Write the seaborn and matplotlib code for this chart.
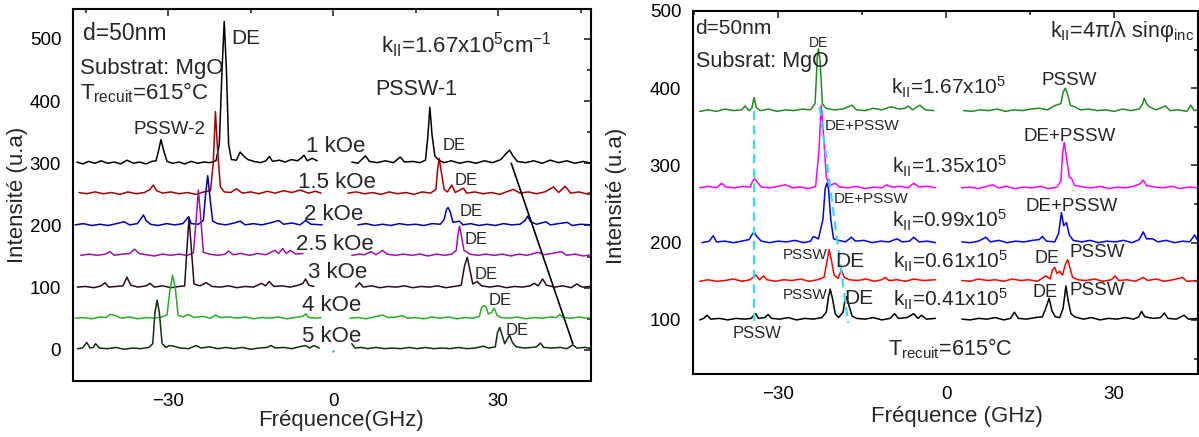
import numpy as np
import pandas as pd
import seaborn as sns
import matplotlib
matplotlib.use('Agg')
import matplotlib.pyplot as plt
from matplotlib.ticker import FixedLocator

# ---- left panel : spectra vs applied field (offset baselines) ----
# points: (frequency GHz, intensity u.a)
k1_L = [(-46.6,302),(-45.5,299),(-44.5,303),(-43.3,300),(-42.2,304),(-41,300),(-39.8,302),(-38.6,299),(-37.5,305),(-36.3,300),(-35.2,302),(-34,299),(-33,303),(-32.2,304),(-31.7,322),(-31.3,338),(-30.8,320),(-30.2,303),(-29.2,300),(-28,302),(-27,299),(-25.8,303),(-24.6,300),(-23.5,302),(-22.4,301),(-21.3,304),(-20.7,330),(-20.2,450),(-19.8,528),(-19.4,450),(-19,330),(-18.5,306),(-17.6,305),(-16.9,318),(-16.3,312),(-15.5,306),(-14.4,303),(-13.2,301),(-12.2,304),(-11.6,311),(-11,303),(-9.8,305),(-8.7,302),(-7.6,306),(-6.5,304),(-5.7,309),(-5.3,313),(-4.7,304),(-3.8,308),(-2.9,304)]
k1_R = [(3.4,302),(4.5,300),(5.9,312),(6.6,303),(8,301),(9.5,304),(11,301),(12.2,310),(13,302),(14.5,303),(15.8,301),(16.8,305),(17.2,340),(17.6,390),(18,345),(18.5,312),(19.2,305),(20.2,301),(21.5,304),(23,300),(24.5,303),(26,300),(27.5,304),(29,301),(30.5,306),(31.5,316),(32.1,321),(32.7,312),(33.5,303),(35,301),(36.5,304),(38,300),(39.5,305),(41,301),(42.5,304),(44,300),(45.5,303),(47,300)]
k15_L = [(-46.2,253),(-44.8,251),(-43.3,254),(-41.8,251),(-40.3,253),(-38.8,250),(-37.3,254),(-35.8,251),(-34.3,253),(-33.3,258),(-32.7,265),(-32.1,256),(-31,252),(-29.5,254),(-28,251),(-26.5,253),(-25,250),(-23.5,254),(-22.3,256),(-21.8,300),(-21.4,383),(-21,320),(-20.5,262),(-19.8,254),(-18.6,253),(-17.6,259),(-16.5,252),(-15,254),(-13.5,251),(-12,255),(-10.5,252),(-9,256),(-7.5,253),(-6,257),(-4.5,252),(-3.2,255),(-2.2,252)]
k15_R = [(2.7,252),(4.2,254),(5.7,251),(7.2,253),(8.7,250),(10.2,254),(11.7,251),(13.2,253),(14.7,250),(16.2,254),(17.7,252),(18.7,258),(19.0,290),(19.3,308),(19.7,285),(20.2,258),(20.8,254),(21.6,265),(22.2,253),(23.7,260),(24.3,252),(25.8,254),(27.3,251),(28.8,253),(30.3,250),(31.5,254),(32.8,258),(34,252),(35.5,254),(37,251),(38.5,254),(40.1,262),(41,253),(42.2,263),(43.2,252),(44.7,254),(46,251),(47,253)]
k2_L = [(-46.9,201),(-45.4,203),(-43.9,200),(-42.4,202),(-40.9,200),(-39.4,203),(-38,206),(-37,201),(-35.6,203),(-35,210),(-34.5,217),(-34,208),(-33.2,202),(-31.8,200),(-30.3,203),(-28.8,201),(-27.3,203),(-26.3,214),(-25.8,203),(-24.5,202),(-23.6,208),(-23.2,250),(-22.8,280),(-22.4,245),(-21.9,207),(-21,203),(-19.5,201),(-18,204),(-16.9,207),(-16,201),(-14.5,203),(-13,201),(-11.5,204),(-9.9,208),(-9,202),(-7.5,204),(-6,201),(-5,208),(-4,202),(-2,201)]
k2_R = [(4.5,201),(6,203),(7.5,200),(9,202),(10.5,200),(12,203),(13.5,201),(15,202),(16.5,200),(18,203),(19.5,202),(20.2,210),(20.6,225),(20.9,229),(21.3,222),(21.8,205),(23,207),(23.6,201),(25,203),(26.5,200),(28,202),(29.5,200),(31,203),(32.5,201),(34,202),(34.9,208),(35.4,215),(35.9,206),(37,202),(38.7,206),(39.5,201),(41,203),(42.6,205),(43.5,200),(45,202),(47,201)]
k25_L = [(-45.9,152),(-44.4,154),(-42.9,152),(-41.4,154),(-40.6,158),(-39.8,152),(-38.3,154),(-37,155),(-36.1,162),(-35.3,155),(-34,153),(-32.5,151),(-31,154),(-29.5,152),(-28,154),(-26.5,152),(-25.4,156),(-24.9,210),(-24.5,257),(-24.1,215),(-23.6,157),(-22.5,154),(-21,152),(-19.6,154),(-19,159),(-18.2,153),(-16.7,155),(-15.2,152),(-13.7,155),(-12.2,153),(-10.6,160),(-9.9,155),(-9.2,163),(-8.5,155),(-7.8,160),(-6.8,154),(-5.5,155)]
k25_R = [(3.4,152),(4.8,154),(5.7,153),(6.9,158),(7.8,153),(9,160),(9.8,154),(11.3,152),(12.8,154),(14.3,152),(15.8,154),(17.3,151),(18.8,154),(20.3,152),(21.6,154),(22.4,160),(22.7,185),(23,199),(23.4,180),(23.8,160),(24.2,158),(24.8,154),(26.3,152),(27.8,154),(29.3,152),(30.8,154),(32.3,151),(33.8,154),(35.3,152),(36.5,155),(37.3,157),(38.3,153),(39.8,155),(41.5,158),(42.5,152),(44,154),(45.5,151),(47,153)]
k3_L = [(-46.5,101),(-45,102),(-43.5,100),(-42.2,103),(-41.5,108),(-40.8,101),(-39.5,102),(-38.2,103),(-37.5,117),(-36.8,104),(-35.5,101),(-34,103),(-33.3,107),(-32.5,101),(-31,103),(-29.5,100),(-28,102),(-27,103),(-26.6,160),(-26.2,213),(-25.8,165),(-25.3,106),(-24.2,103),(-23.1,108),(-22,102),(-20.5,101),(-19,103),(-17.5,100),(-16,102),(-14.5,101),(-13,107),(-12.3,103),(-11.6,110),(-10.8,102),(-9.3,103),(-7.8,101),(-6.3,104),(-5.5,107),(-5,114),(-4.4,104),(-3.5,102)]
k3_R = [(4.1,101),(4.8,108),(5.5,101),(7,103),(8.5,100),(10,102),(11.5,101),(13,103),(14.5,100),(16,102),(17.5,101),(19,103),(20.5,100),(22,102),(23.3,104),(23.9,135),(24.4,149),(24.9,128),(25.4,106),(26.2,110),(27,103),(28.5,101),(30,103),(31.5,100),(33,102),(34.5,101),(35.8,103),(36.6,107),(37.3,103),(38.1,114),(38.8,104),(40.3,101),(41.8,103),(43.3,100),(44.3,106),(45.3,101),(47,102)]
k4_L = [(-46.9,51),(-45.4,52),(-43.9,50),(-42.4,53),(-41.3,52),(-40.6,57),(-39.8,56),(-38.5,51),(-37,53),(-35.5,50),(-34,52),(-32.5,51),(-31.2,53),(-30.2,56),(-29.7,95),(-29.2,120),(-28.7,100),(-28.2,56),(-27.3,53),(-26.3,57),(-25.3,52),(-23.8,54),(-22.3,51),(-21.4,56),(-20.5,52),(-19,53),(-17.5,51),(-16,53),(-14.5,50),(-13,52),(-11.5,51),(-10,53),(-8.5,50),(-7,52),(-5.5,54),(-5,58),(-4.4,52),(-3,51),(-2.2,52)]
k4_R = [(3.1,51),(4.6,52),(6,50),(7.5,53),(9,56),(10,52),(11.5,53),(12.5,55),(13.5,51),(15,52),(16.5,50),(18,53),(19.5,51),(21,53),(22.5,50),(24,52),(25.5,51),(26.6,54),(27,68),(27.4,71),(27.8,70),(28.2,58),(28.8,60),(29.3,67),(29.8,56),(30.5,52),(32,51),(33.5,53),(35,50),(36.5,52),(38,51),(39.5,53),(40.6,52),(41.2,57),(41.8,52),(43.3,51),(44.8,53),(46,51),(47,52)]
k5_L = [(-46.5,2),(-45.6,3),(-44.8,12),(-44.2,3),(-43.6,4),(-43.2,10),(-42.5,3),(-41,2),(-39.5,4),(-38,1),(-36.5,3),(-35,2),(-33.5,4),(-32.8,10),(-32.4,60),(-32,80),(-31.6,60),(-31.1,10),(-30.4,4),(-29.8,7),(-29,6),(-27.8,3),(-26.3,2),(-24.9,7),(-24,3),(-22.5,5),(-21,2),(-19.5,4),(-18,2),(-16.5,4),(-15,1),(-13.5,3),(-12,4),(-11.3,7),(-10.5,3),(-9,4),(-7.5,2),(-6.2,5),(-5,7),(-4.3,3),(-3.5,7),(-2.5,3)]
k5_R = [(3.4,10),(4,3),(5.2,4),(6.3,2),(7.8,4),(9.3,2),(10.8,3),(12.3,2),(13.8,4),(15.3,2),(16.8,4),(18.3,2),(19.8,3),(21.3,2),(22.8,4),(24.3,2),(25.8,3),(27.3,6),(28.3,3),(29.5,5),(29.9,28),(30.3,36),(30.7,25),(31.2,10),(31.7,18),(32.1,24),(32.6,12),(33.3,5),(34.8,3),(36.2,4),(37,5),(37.7,11),(38.3,4),(39.8,3),(41.3,4),(42.5,2),(43.6,8),(44.3,3),(45.8,4),(47,2)]

fields = ['1 kOe', '1.5 kOe', '2 kOe', '2.5 kOe', '3 kOe', '4 kOe', '5 kOe']
field_halves = [(k1_L, k1_R), (k15_L, k15_R), (k2_L, k2_R), (k25_L, k25_R), (k3_L, k3_R), (k4_L, k4_R), (k5_L, k5_R)]
field_colors = ['#000000', '#A80000', '#0000B0', '#A010A8', '#2A0A22', '#22B022', '#0F2F0F']
# label positions (freq, intensity) for the field names and the small DE marks
field_lab_pos = [(-4.9, 327), (-6.3, 269), (-5.3, 217), (-6.8, 170), (-4.6, 124), (-5.6, 72), (-5.6, 22)]
de_lab_pos = [(19.9, 328), (22.1, 273), (23.0, 222), (24.0, 177), (25.8, 122), (28.2, 80), (31.4, 32)]
# straight guide line drawn over the spectra
guide_f = [32.4, 43.6]
guide_i = [300, 10]
dot_f = [0]
dot_i = [-1]

# ---- right panel : spectra vs wave vector ----
g167_L = [(-44,370),(-42.5,372),(-41,370),(-39.5,373),(-38,371),(-36.5,372),(-35.9,377),(-35.2,371),(-34.7,374),(-34.3,388),(-33.9,375),(-33.2,371),(-31.7,373),(-30.2,370),(-28.7,372),(-27.2,371),(-25.7,373),(-24.2,372),(-23.4,380),(-23.0,440),(-22.8,451),(-22.5,435),(-22.1,380),(-21.5,374),(-20,372),(-18.5,373),(-16.8,378),(-16,372),(-14.5,371),(-13,374),(-11.5,372),(-10.3,375),(-9.7,376),(-8.5,373),(-7.3,374),(-6.8,377),(-6,372),(-4.7,378),(-3.7,372),(-2.2,371)]
g167_R = [(3.1,371),(4.6,370),(6.1,372),(7.6,371),(9.1,373),(10.6,370),(12.1,372),(13.6,371),(15.1,373),(16.6,374),(18.1,372),(19.6,378),(20.5,380),(20.9,395),(21.3,400),(21.7,392),(22.2,378),(22.9,376),(24,372),(25.5,373),(27,371),(28.5,372),(30,370),(31.5,373),(33,371),(34.5,373),(35.1,380),(35.4,387),(35.8,380),(36.3,376),(37.5,372),(39.2,377),(40,371),(41.5,372),(43,370),(43.7,378),(44.3,371),(45,372)]
g135_L = [(-44,271),(-42.5,273),(-41,271),(-40.1,277),(-39.3,272),(-37.8,271),(-36.3,273),(-35,272),(-34.6,279),(-34.2,283),(-33.6,277),(-33,272),(-31.5,271),(-30,273),(-28.7,275),(-27.5,271),(-26,272),(-24.5,270),(-23.3,273),(-22.7,320),(-22.3,378),(-21.9,340),(-21.4,285),(-20.8,274),(-19.8,277),(-19,272),(-17.5,271),(-16,273),(-14.5,270),(-13,272),(-11.5,271),(-10.6,275),(-9.8,272),(-8.3,273),(-6.8,271),(-5.8,277),(-4.8,272),(-3.3,273),(-1.9,271)]
g135_R = [(2.8,271),(4.3,272),(5.8,270),(7.3,273),(8.3,275),(9.3,271),(10.8,273),(12.3,270),(13.8,272),(15.3,271),(16.8,273),(18.3,270),(19.8,272),(20.5,280),(20.8,315),(21.1,330),(21.5,310),(22.0,285),(22.4,283),(23,274),(24.5,272),(26,271),(27.5,273),(29,270),(30.5,272),(32,271),(33.5,273),(34.6,276),(35.2,281),(35.8,274),(37.3,272),(38.8,271),(40.3,273),(41.8,270),(43.3,272),(45,271)]
g099_L = [(-43.6,200),(-42.3,202),(-41.6,209),(-41,201),(-39.5,202),(-38,200),(-36.5,202),(-35.2,204),(-34.7,210),(-34.3,214),(-33.8,208),(-33,202),(-31.5,200),(-30,202),(-28.5,201),(-27,203),(-25.5,200),(-24.2,202),(-23.7,208),(-22.8,205),(-22,230),(-21.6,270),(-21.3,277),(-21,270),(-20.6,230),(-20.1,205),(-19.2,203),(-18,201),(-16.9,207),(-16.2,202),(-14.7,203),(-13.2,200),(-11.7,202),(-10.2,201),(-8.8,205),(-7.8,201),(-6.5,202),(-5.8,207),(-4.8,201),(-3.3,202),(-1.9,200)]
g099_R = [(2.8,201),(4.3,200),(5.8,202),(7.1,207),(7.9,201),(9.4,203),(10.9,200),(12.4,202),(13.9,201),(15.4,203),(16.6,204),(17.2,208),(17.9,202),(19.4,201),(20.1,212),(20.6,239),(21.0,222),(21.5,226),(22,210),(22.7,203),(24.2,201),(25.7,203),(27.2,200),(28.7,202),(30.2,201),(31.7,203),(33.2,200),(34.5,204),(35.2,214),(35.8,205),(36.9,205),(37.8,201),(39.3,203),(40.8,200),(42.3,202),(43.5,201),(44.4,210),(45,202)]
g061_L = [(-44,150),(-42.5,152),(-41,150),(-39.5,151),(-38,153),(-36.5,150),(-35,152),(-34,158),(-33.3,152),(-32.6,157),(-32,152),(-30.5,150),(-29,152),(-27.5,151),(-26,153),(-24.5,150),(-23,152),(-21.8,155),(-21.3,175),(-20.9,191),(-20.5,178),(-20,158),(-19.3,154),(-18.7,165),(-18.2,155),(-17.3,152),(-15.8,151),(-14.3,153),(-12.8,150),(-11.5,152),(-10.9,155),(-10.2,151),(-8.7,152),(-7.2,150),(-5.7,153),(-4.2,151),(-1.9,152)]
g061_R = [(2.8,151),(4.3,150),(5.8,153),(7.3,151),(8.8,152),(10.3,150),(11.8,153),(13.3,151),(14.8,152),(16.3,150),(17.8,157),(18.6,153),(19.0,165),(19.4,168),(19.8,160),(20.3,163),(20.8,158),(21.3,172),(21.7,178),(22.1,168),(22.6,155),(23.5,152),(25,151),(26.5,153),(28,150),(29.5,152),(30.2,157),(30.8,151),(32.3,152),(33.8,150),(35.2,155),(36,151),(37.5,153),(39,150),(40.5,152),(42.2,155),(43,150),(45,151)]
g041_L = [(-44,100),(-43.3,102),(-42.7,106),(-42,101),(-40.5,102),(-39,100),(-37.5,102),(-36,101),(-34.8,102),(-34.4,106),(-34,108),(-33.5,102),(-32.4,103),(-31.8,107),(-31.2,102),(-29.7,101),(-28.2,103),(-26.7,100),(-25.2,102),(-23.7,101),(-22.2,103),(-21.4,110),(-21,130),(-20.7,140),(-20.3,128),(-19.8,108),(-19.2,103),(-18.4,110),(-18.1,124),(-17.8,130),(-17.4,120),(-16.8,105),(-16,102),(-14.5,101),(-13,103),(-11.5,100),(-10,102),(-9.2,108),(-8.5,102),(-7,103),(-5.8,108),(-5,102),(-4.4,106),(-3.5,101),(-1.9,102)]
g041_R = [(2.8,101),(4.3,100),(5.8,102),(7.3,101),(8.8,103),(10.3,100),(11.5,102),(12.2,110),(12.9,102),(14.4,101),(15.9,103),(17.2,104),(17.8,115),(18.4,128),(18.9,112),(19.5,104),(20.3,103),(20.9,115),(21.4,144),(21.8,125),(22.3,108),(23,104),(24.5,101),(26,103),(27.5,100),(29,102),(30.5,101),(32,103),(33.5,101),(34.4,104),(34.9,111),(35.5,104),(37,102),(38.3,103),(39,109),(39.6,102),(41.1,101),(42.5,106),(43.3,101),(45,102)]

kvals = ['1.67', '1.35', '0.99', '0.61', '0.41']
k_halves = [(g167_L, g167_R), (g135_L, g135_R), (g099_L, g099_R), (g061_L, g061_R), (g041_L, g041_R)]
k_colors = ['#1E8C1E', '#FF00FF', '#0000FF', '#FF0000', '#000000']
k_lab_pos = [(-9.9, 401), (-9.7, 299), (-9.6, 229), (-9.5, 176), (-9.4, 126)]
# cyan dashed guides
cy1_f = [-34.3, -34.3]
cy1_i = [370, 98]
cy2_f = [-22.6, -17.5]
cy2_i = [376, 96]


def to_frame(names, halves):
    rows = []
    for name, (lo, hi) in zip(names, halves):
        for part, pts in (('L', lo), ('R', hi)):
            for f, v in pts:
                rows.append((name, part, f, v))
    return pd.DataFrame(rows, columns=['serie', 'part', 'freq', 'intens'])


def mirror_ticks(ax, xmaj, xmin, ymaj, ymin):
    # Origin style: out ticks bottom/left, in ticks top/right
    ax.xaxis.set_major_locator(FixedLocator(xmaj))
    ax.xaxis.set_minor_locator(FixedLocator(xmin))
    ax.yaxis.set_major_locator(FixedLocator(ymaj))
    ax.yaxis.set_minor_locator(FixedLocator(ymin))
    ax.tick_params(which='both', direction='out', width=1.2, colors='black')
    ax.tick_params(which='major', length=5)
    ax.tick_params(which='minor', length=3)
    top = ax.secondary_xaxis('top')
    top.xaxis.set_major_locator(FixedLocator(xmaj))
    top.xaxis.set_minor_locator(FixedLocator(xmin))
    top.tick_params(which='both', direction='in', labeltop=False, width=1.2)
    top.tick_params(which='major', length=5)
    top.tick_params(which='minor', length=3)
    right = ax.secondary_yaxis('right')
    right.yaxis.set_major_locator(FixedLocator(ymaj))
    right.yaxis.set_minor_locator(FixedLocator(ymin))
    right.tick_params(which='both', direction='in', labelright=False, width=1.2)
    right.tick_params(which='major', length=5)
    right.tick_params(which='minor', length=3)
    for s in ax.spines.values():
        s.set_linewidth(1.5)
        s.set_color('black')


sns.set_theme(style='white')
plt.rcParams['font.family'] = ['Liberation Sans', 'DejaVu Sans']
plt.rcParams['mathtext.fontset'] = 'custom'
plt.rcParams['mathtext.rm'] = 'Liberation Sans'
plt.rcParams['mathtext.it'] = 'Liberation Sans'
plt.rcParams['mathtext.bf'] = 'Liberation Sans:bold'

fig = plt.figure(figsize=(11.99, 4.37), dpi=100)
ax1 = fig.add_axes([0.0609, 0.1281, 0.4320, 0.8513])
ax2 = fig.add_axes([0.5780, 0.1442, 0.4212, 0.8307])

# ---------- left ----------
df1 = to_frame(fields, field_halves)
sns.lineplot(data=df1, x='freq', y='intens', hue='serie', units='part', estimator=None,
             sort=False, palette=dict(zip(fields, field_colors)), legend=False, lw=1.1, ax=ax1)
sns.lineplot(x=guide_f, y=guide_i, estimator=None, sort=False, color='black', lw=1.2, ax=ax1)
sns.scatterplot(x=dot_f, y=dot_i, color='#20C0C0', s=3, linewidth=0, ax=ax1)
ax1.set_xlim(-47.3, 46.9)
ax1.set_ylim(-50, 548)
mirror_ticks(ax1, [-30, 0, 30], [-45, -15, 15, 45], [0, 100, 200, 300, 400, 500], list(range(-50, 550, 50)))
ax1.tick_params(labelsize=13.5)
ax1.set_xlabel('Fréquence(GHz)', fontsize=16)
ax1.set_ylabel('Intensité (u.a)', fontsize=16)
ax1.xaxis.set_label_coords(0.517, -0.078)
ax1.yaxis.set_label_coords(-0.087, 0.5)

for name, (fx, iy) in zip(fields, field_lab_pos):
    ax1.text(fx, iy, name, fontsize=16, va='center', ha='left')
for fx, iy in de_lab_pos:
    ax1.text(fx, iy, 'DE', fontsize=12, va='center', ha='left')
ax1.text(-45.4, 509, 'd=50nm', fontsize=16.5, va='center')
ax1.text(-46.1, 453, 'Substrat: MgO', fontsize=16, va='center')
ax1.text(-46.1, 413, r'T$_{\rm recuit}$=615°C', fontsize=16, va='center')
ax1.text(-18.6, 501, 'DE', fontsize=15, va='center')
ax1.text(8.7, 490, r'k$_{\rm II}$=1.67x10$^5$cm$^{-1}$', fontsize=16, va='center')
ax1.text(7.6, 418, 'PSSW-1', fontsize=15.5, va='center')
ax1.text(-36.3, 354, 'PSSW-2', fontsize=13.5, va='center')

# ---------- right ----------
df2 = to_frame(kvals, k_halves)
sns.lineplot(data=df2, x='freq', y='intens', hue='serie', units='part', estimator=None,
             sort=False, palette=dict(zip(kvals, k_colors)), legend=False, lw=1.1, ax=ax2)
sns.lineplot(x=cy1_f, y=cy1_i, estimator=None, sort=False, color='#30E0F0', lw=1.6, ls=(0, (4, 2.5)), ax=ax2)
sns.lineplot(x=cy2_f, y=cy2_i, estimator=None, sort=False, color='#30E0F0', lw=1.6, ls=(0, (4, 2.5)), ax=ax2)
ax2.set_xlim(-45.2, 45)
ax2.set_ylim(30, 500)
mirror_ticks(ax2, [-30, 0, 30], [-45, -15, 15, 45], [100, 200, 300, 400, 500], list(range(50, 501, 50)))
ax2.tick_params(labelsize=13.5)
ax2.set_xlabel('Fréquence (GHz)', fontsize=16)
ax2.set_ylabel('Intensité (u.a)', fontsize=16)
ax2.xaxis.set_label_coords(0.523, -0.088)
ax2.yaxis.set_label_coords(-0.13, 0.49)

for kv, (fx, iy) in zip(kvals, k_lab_pos):
    ax2.text(fx, iy, r'k$_{\rm II}$=' + kv + r'x10$^5$', fontsize=15, va='center')
ax2.text(-44.75, 477, 'd=50nm', fontsize=15, va='center')
ax2.text(-44.6, 435, 'Subsrat: MgO', fontsize=15.5, va='center')
ax2.text(18.6, 473, r'k$_{\rm II}$=4π/λ sinφ$_{\rm inc}$', fontsize=15.5, va='center')
ax2.text(-22.7, 459, 'DE', fontsize=10, va='center', ha='center')
ax2.text(17.1, 410, 'PSSW', fontsize=13.5, va='center')
ax2.text(-21.6, 351, 'DE+PSSW', fontsize=11, va='center')
ax2.text(13.8, 338, 'DE+PSSW', fontsize=13.5, va='center')
ax2.text(-20.1, 256, 'DE+PSSW', fontsize=11, va='center')
ax2.text(14.2, 247, 'DE+PSSW', fontsize=13.5, va='center')
ax2.text(-29.2, 184, 'PSSW', fontsize=11, va='center')
ax2.text(-19.75, 176, 'DE', fontsize=15, va='center')
ax2.text(15.8, 180, 'DE', fontsize=13, va='center')
ax2.text(22.0, 187, 'PSSW', fontsize=13.5, va='center')
ax2.text(-29.2, 132, 'PSSW', fontsize=11, va='center')
ax2.text(-18.2, 128, 'DE', fontsize=15, va='center')
ax2.text(15.5, 135, 'DE', fontsize=13, va='center')
ax2.text(22.0, 138, 'PSSW', fontsize=13.5, va='center')
ax2.text(-38.2, 83, 'PSSW', fontsize=12, va='center')
ax2.text(-10.3, 63, r'T$_{\rm recuit}$=615°C', fontsize=15.5, va='center')

fig.savefig('out.png', dpi=100)
